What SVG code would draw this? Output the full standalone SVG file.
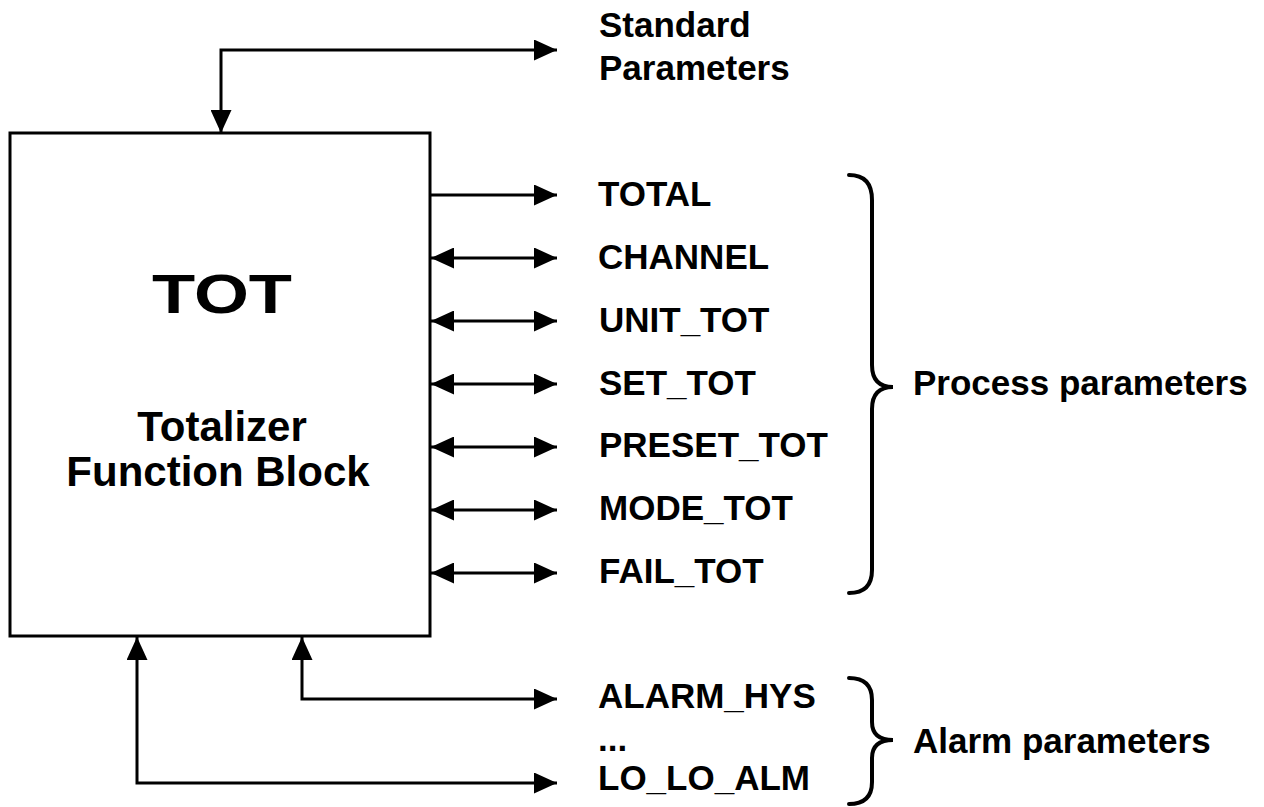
<svg xmlns="http://www.w3.org/2000/svg" width="1264" height="807" viewBox="0 0 1264 807">
<defs>
<style>
.ln{fill:none;stroke:#000;stroke-width:3}
.br{fill:none;stroke:#000;stroke-width:4;stroke-linecap:round}
.t{font-family:"Liberation Sans",Arial,sans-serif;font-weight:bold;fill:#000}
.lb{font-size:35px}
.big{font-size:42px;text-anchor:middle}
</style>
<marker id="ah" viewBox="0 0 23 21" refX="23" refY="10.5" markerWidth="23" markerHeight="21" markerUnits="userSpaceOnUse" orient="auto-start-reverse">
<path d="M0,0 L23,10.5 L0,21 Z" fill="#000"/>
</marker>
</defs>
<rect width="1264" height="807" fill="#fff"/>
<g id="tot-block">
<rect x="10" y="133" width="420" height="503" class="ln"/>
<text class="t" x="222" y="313" font-size="56" text-anchor="middle" textLength="140" lengthAdjust="spacingAndGlyphs">TOT</text>
<text class="t big" x="222" y="441">Totalizer</text>
<text class="t big" x="218" y="486">Function Block</text>
</g>
<g id="connectors">
<path class="ln" d="M221,133 L221,50 L557,50" marker-start="url(#ah)" marker-end="url(#ah)"/>
<path class="ln" d="M430,195 L557,195" marker-end="url(#ah)"/>
<path class="ln" d="M431,258 L557,258" marker-start="url(#ah)" marker-end="url(#ah)"/>
<path class="ln" d="M431,321 L557,321" marker-start="url(#ah)" marker-end="url(#ah)"/>
<path class="ln" d="M431,384 L557,384" marker-start="url(#ah)" marker-end="url(#ah)"/>
<path class="ln" d="M431,447 L557,447" marker-start="url(#ah)" marker-end="url(#ah)"/>
<path class="ln" d="M431,510 L557,510" marker-start="url(#ah)" marker-end="url(#ah)"/>
<path class="ln" d="M431,573 L557,573" marker-start="url(#ah)" marker-end="url(#ah)"/>
<path class="ln" d="M302,637 L302,699 L557,699" marker-start="url(#ah)" marker-end="url(#ah)"/>
<path class="ln" d="M137,637 L137,783 L557,783" marker-start="url(#ah)" marker-end="url(#ah)"/>
</g>
<g id="standard-params">
<text class="t lb" x="599" y="37">Standard</text>
<text class="t lb" x="599" y="80">Parameters</text>
</g>
<g id="process-params">
<text class="t lb" x="598" y="206">TOTAL</text>
<text class="t lb" x="598" y="269">CHANNEL</text>
<text class="t lb" x="599" y="332">UNIT_TOT</text>
<text class="t lb" x="599" y="395">SET_TOT</text>
<text class="t lb" x="599" y="457">PRESET_TOT</text>
<text class="t lb" x="599" y="520">MODE_TOT</text>
<text class="t lb" x="599" y="583">FAIL_TOT</text>
<path class="br" d="M849,175 Q872,175 872,200 L872,365 Q872,387 893,387 Q872,387 872,409 L872,570 Q872,593 849,593"/>
<text class="t lb" x="913" y="395">Process parameters</text>
</g>
<g id="alarm-params">
<text class="t lb" x="598" y="708">ALARM_HYS</text>
<text class="t lb" x="598" y="751">...</text>
<text class="t lb" x="598" y="790">LO_LO_ALM</text>
<path class="br" d="M849,678 Q872,678 872,700 L872,722 Q872,740 893,740 Q872,740 872,758 L872,782 Q872,804 849,804"/>
<text class="t lb" x="913" y="753">Alarm parameters</text>
</g>
</svg>
